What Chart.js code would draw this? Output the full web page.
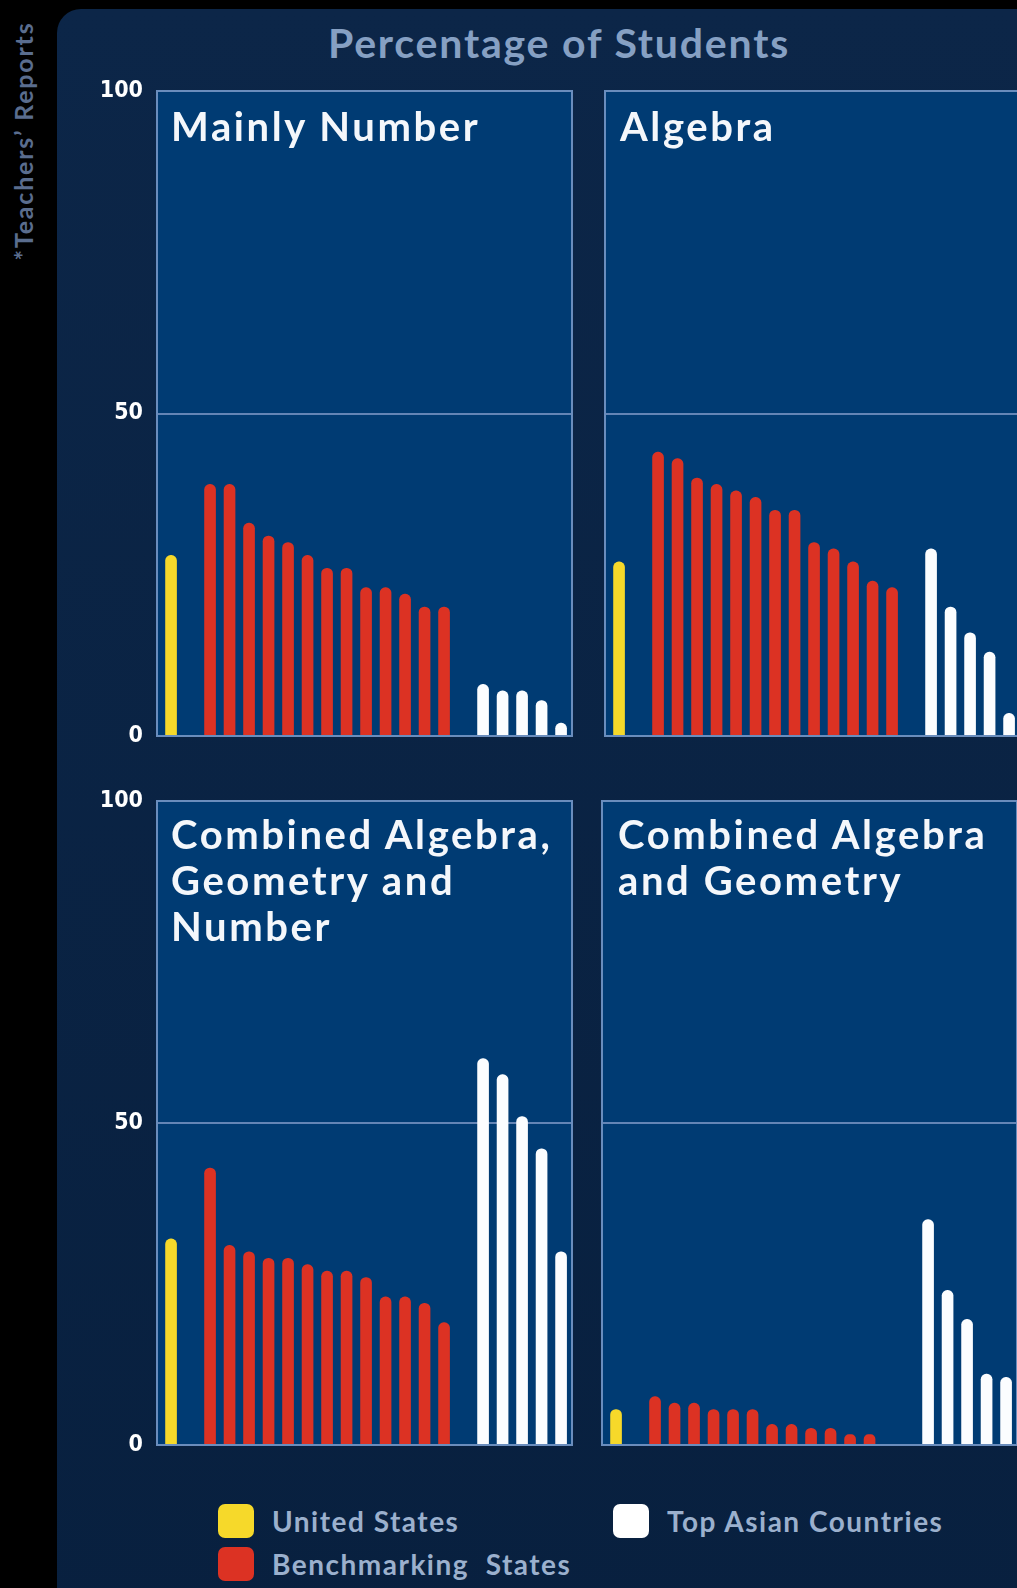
<!DOCTYPE html>
<html>
<head>
<meta charset="utf-8">
<script src="https://cdn.jsdelivr.net/npm/chart.js@4"></script>
<style>
  html, body { margin: 0; padding: 0; }
  body {
    width: 1017px; height: 1588px; overflow: hidden; position: relative;
    background: #000; font-family: 'Lato', 'Open Sans', sans-serif;
  }
  .sheet {
    position: absolute; left: 57px; top: 9px; width: 1040px; height: 1620px;
    border-top-left-radius: 24px;
    background: linear-gradient(#0c2648, #08203f);
  }
  .side-note {
    position: absolute; left: 23px; top: 141px; width: 320px; height: 30px;
    margin-left: -160px; margin-top: -15px;
    transform: rotate(-90deg); text-align: center;
    font: 700 25px 'Lato', sans-serif; letter-spacing: 1.8px; color: #5a6d8e; line-height: 30px;
    white-space: nowrap;
  }
  .page-title {
    position: absolute; left: 0; width: 1118px; top: 19px; text-align: center;
    font: 700 41px 'Lato', sans-serif; letter-spacing: 1.8px; color: #86a0c3; line-height: 48px;
  }
  .panel { position: absolute; }
  .panel-title {
    position: absolute; color: #f4f7fb;
    font: 700 40px 'Lato', sans-serif; letter-spacing: 2.6px; line-height: 46px; white-space: nowrap;
  }
  .legend-item { position: absolute; display: flex; align-items: center; }
  .swatch { width: 36px; height: 34px; border-radius: 7px; margin-right: 18px; }
  .legend-text { font: 700 28px 'Lato', sans-serif; letter-spacing: 1.5px; color: #9bb0cd; white-space: nowrap; }
</style>
</head>
<body>
<div class="sheet"></div>
<div class="side-note">*Teachers’ Reports</div>
<div class="page-title">Percentage of Students</div>

<canvas id="chartNumber" class="panel" style="left:100px;top:63px" width="480" height="701"></canvas>
<canvas id="chartAlgebra" class="panel" style="left:597px;top:63px" width="431" height="701"></canvas>
<canvas id="chartAGN" class="panel" style="left:100px;top:773px" width="480" height="700"></canvas>
<canvas id="chartAG" class="panel" style="left:594px;top:773px" width="431" height="700"></canvas>

<div class="panel-title" style="left:171px;top:103px">Mainly Number</div>
<div class="panel-title" style="left:620px;top:103px">Algebra</div>
<div class="panel-title" style="left:171px;top:811px">Combined Algebra,<br>Geometry and<br>Number</div>
<div class="panel-title" style="left:618px;top:811px">Combined Algebra<br>and Geometry</div>

<div class="legend-item" style="left:218px;top:1504px">
  <div class="swatch" style="background:#f6d92a"></div><span class="legend-text">United States</span>
</div>
<div class="legend-item" style="left:613px;top:1504px">
  <div class="swatch" style="background:#ffffff"></div><span class="legend-text">Top Asian Countries</span>
</div>
<div class="legend-item" style="left:218px;top:1547px">
  <div class="swatch" style="background:#dc3223"></div><span class="legend-text">Benchmarking&nbsp; States</span>
</div>

<script>
// values, percent of students
const groups = ['United States', 'Benchmarking States', 'Top Asian Countries'];
const yTicks = [0, 50, 100];

const numberUS = [28];
const numberStates = [39, 39, 33, 31, 30, 28, 26, 26, 23, 23, 22, 20, 20];
const numberAsia = [8, 7, 7, 5.5, 2];

const algebraUS = [27];
const algebraStates = [44, 43, 40, 39, 38, 37, 35, 35, 30, 29, 27, 24, 23];
const algebraAsia = [29, 20, 16, 13, 3.5];

const agnUS = [32];
const agnStates = [43, 31, 30, 29, 29, 28, 27, 27, 26, 23, 23, 22, 19];
const agnAsia = [60, 57.5, 51, 46, 30];

const agUS = [5.5];
const agStates = [7.5, 6.5, 6.5, 5.5, 5.5, 5.5, 3.2, 3.2, 2.6, 2.6, 1.6, 1.6, 0];
const agAsia = [35, 24, 19.5, 11, 10.5];

const colors = {
    us: '#f6d92a',
    states: '#dc3223',
    asia: '#fbfdff',
    panel: '#003b73',
    edge: '#6a8dbd',
    grid: '#6485b6'
};

// one empty slot between the groups
function toPoints(values, start) {
    return values.map((v, i) => ({ x: start + i, y: v }));
}

const panelPlugin = {
    id: 'panelBox',
    beforeDraw(chart) {
        const a = chart.chartArea;
        const ctx = chart.ctx;
        ctx.save();
        ctx.fillStyle = colors.panel;
        ctx.fillRect(a.left, a.top, a.right - a.left, a.bottom - a.top);
        ctx.restore();
    },
    afterDraw(chart) {
        const a = chart.chartArea;
        const ctx = chart.ctx;
        ctx.save();
        ctx.strokeStyle = colors.edge;
        ctx.lineWidth = 2;
        ctx.strokeRect(a.left, a.top, a.right - a.left, a.bottom - a.top);
        ctx.restore();
    }
};

function makeChart(id, us, states, asia, showTicks) {
    const bar = {
        barThickness: 11,
        borderRadius: 6,
        borderSkipped: 'start',
        grouped: false
    };
    return new Chart(document.getElementById(id), {
        type: 'bar',
        data: {
            datasets: [
                { label: groups[0], data: toPoints(us, 0), backgroundColor: colors.us, ...bar },
                { label: groups[1], data: toPoints(states, 2), backgroundColor: colors.states, ...bar },
                { label: groups[2], data: toPoints(asia, 16), backgroundColor: colors.asia, ...bar }
            ]
        },
        options: {
            responsive: false,
            animation: false,
            devicePixelRatio: 1,
            layout: { padding: { left: showTicks ? 0 : 8, right: 8, top: 28, bottom: 28 } },
            plugins: {
                legend: { display: false },
                tooltip: { enabled: false }
            },
            scales: {
                x: {
                    type: 'linear',
                    display: false,
                    offset: false,
                    min: -0.72,
                    max: 20.56
                },
                y: {
                    min: 0,
                    max: 100,
                    afterBuildTicks: scale => {
                        scale.ticks = yTicks.map(v => ({ value: v }));
                    },
                    afterFit: scale => {
                        scale.width = showTicks ? 57 : 0;
                    },
                    border: { display: false },
                    grid: {
                        drawTicks: false,
                        lineWidth: 2,
                        color: ctx => (ctx.tick && ctx.tick.value === 50 ? colors.grid : 'rgba(0,0,0,0)')
                    },
                    ticks: {
                        display: showTicks,
                        padding: 14,
                        color: '#ffffff',
                        font: {
                            family: "'Liberation Sans Narrow', 'DejaVu Sans Condensed', sans-serif",
                            size: 23,
                            weight: 'bold'
                        }
                    }
                }
            }
        },
        plugins: [panelPlugin]
    });
}

makeChart('chartNumber', numberUS, numberStates, numberAsia, true);
makeChart('chartAlgebra', algebraUS, algebraStates, algebraAsia, false);
makeChart('chartAGN', agnUS, agnStates, agnAsia, true);
makeChart('chartAG', agUS, agStates, agAsia, false);
</script>
</body>
</html>
